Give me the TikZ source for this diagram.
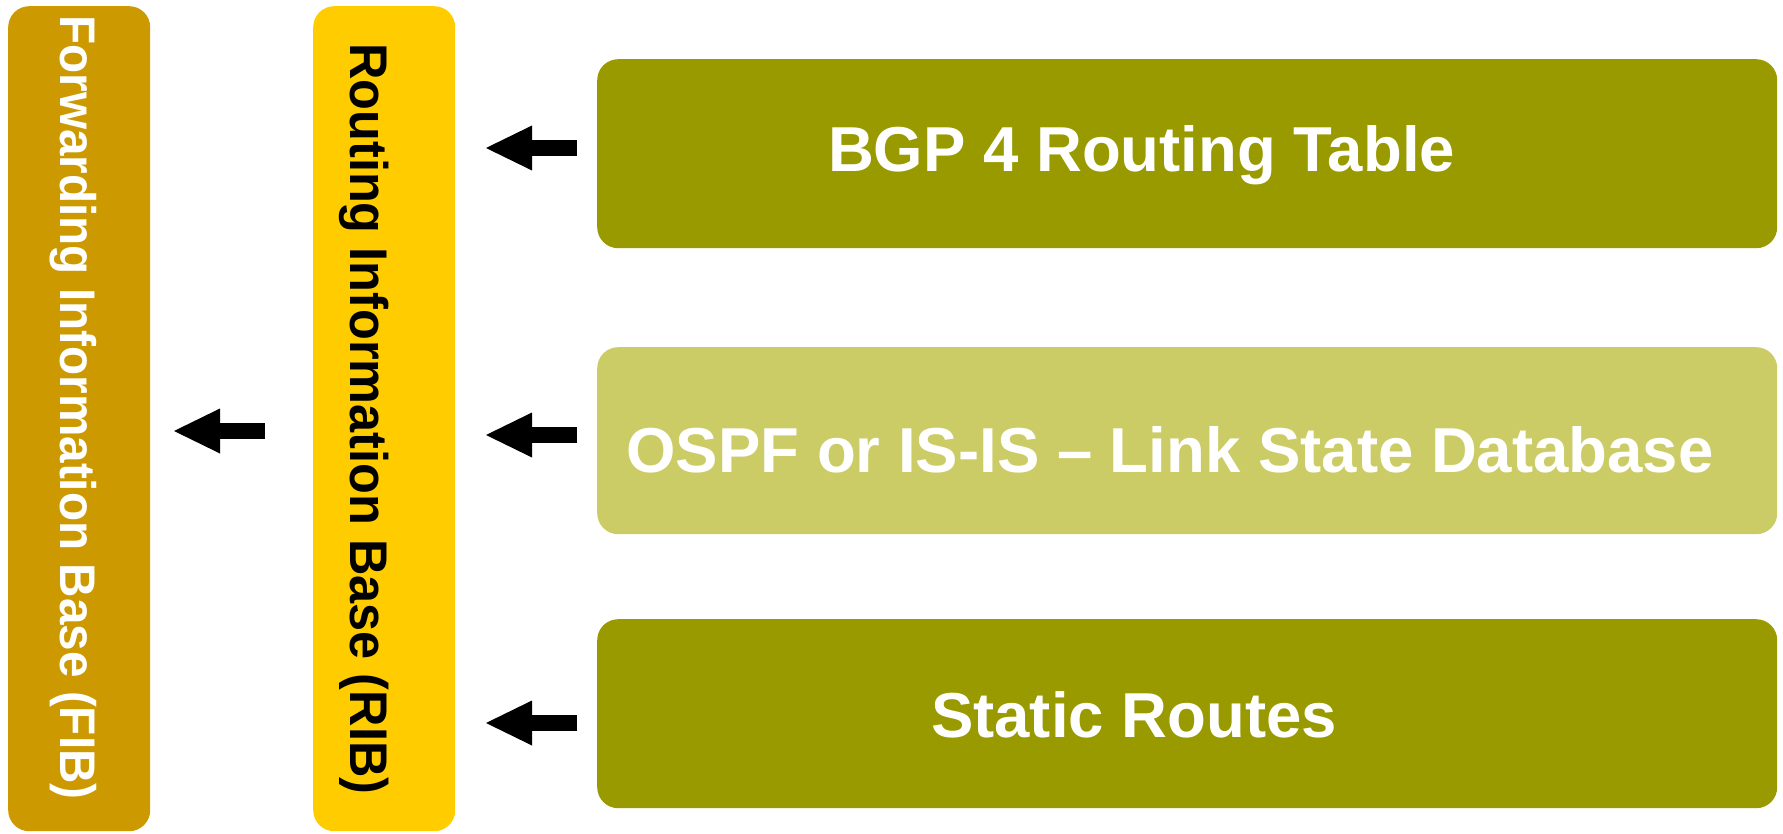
\documentclass[tikz,border=0pt]{standalone}
\usepackage{fontspec}
\setmainfont{Liberation Sans}
\usetikzlibrary{arrows.meta}

\definecolor{fibcol}{HTML}{CC9900}
\definecolor{ribcol}{HTML}{FFCC00}
\definecolor{protocol}{HTML}{999900}
\definecolor{lsdb}{HTML}{CCCC66}

\begin{document}
\begin{tikzpicture}[x=1pt,y=-1pt,
  panel/.style={fill=#1, draw=none, rounded corners=21pt, inner sep=0pt,
    anchor=north west},
  sidetext/.style={rotate=-90, anchor=base west, inner sep=0pt,
    font=\bfseries\fontsize{#1}{#1}\selectfont},
  boxtext/.style={anchor=base, inner sep=0pt, text=white,
    font=\bfseries\fontsize{63.5}{70}\selectfont},
  blockarrow/.style={draw=black, line width=16pt,
    -{Triangle[length=46pt,width=45pt,line width=0pt]}}]
\useasboundingbox (0,0) rectangle (1783,834);

% tables
\node[panel=fibcol, minimum width=142pt, minimum height=825pt] (fib) at (8,6) {};
\node[panel=ribcol, minimum width=142pt, minimum height=825pt] (rib) at (313,6) {};
\node[panel=protocol, minimum width=1180pt, minimum height=189pt] (bgp) at (597,59) {};
\node[panel=lsdb, minimum width=1180pt, minimum height=187pt] (lsdb) at (597,347) {};
\node[panel=protocol, minimum width=1180pt, minimum height=189pt] (static) at (597,619) {};

% labels
\node[sidetext=50, text=white] (fibtxt) at (60,15)
  {\scalebox{0.954}[1]{Forwarding Information Base (FIB)}};
\node[sidetext=53, text=black] (ribtxt) at (350,43)
  {\scalebox{0.952}[1]{Routing Information Base (RIB)}};
\node[boxtext] (bgptxt) at (1141.5,172) {BGP 4 Routing Table};
\node[boxtext] (lsdbtxt) at (1170,472) {OSPF or IS-IS -- Link State Database};
\node[boxtext] (statictxt) at (1134,737) {Static Routes};

% arrows feeding the RIB and the FIB
\coordinate (bgpout) at (577,148);   \coordinate (bgpin) at (486,148);
\coordinate (lsdbout) at (577,435);  \coordinate (lsdbin) at (486,435);
\coordinate (stout) at (577,723);    \coordinate (stin) at (486,723);
\coordinate (ribout) at (265,431);   \coordinate (ribin) at (174,431);
\draw[blockarrow] (bgpout) -- (bgpin);
\draw[blockarrow] (lsdbout) -- (lsdbin);
\draw[blockarrow] (stout) -- (stin);
\draw[blockarrow] (ribout) -- (ribin);
\end{tikzpicture}
\end{document}
